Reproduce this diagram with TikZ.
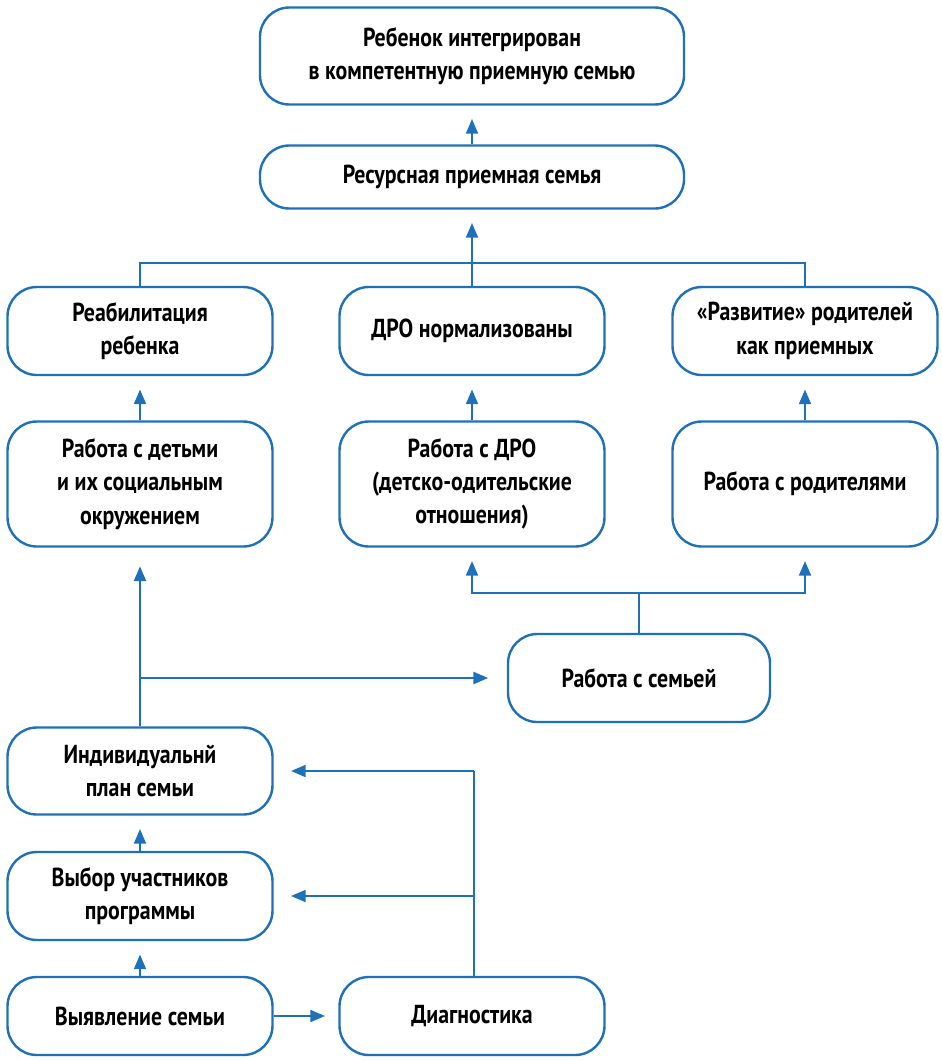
\documentclass[tikz,border=0pt]{standalone}
\usepackage{fontspec}
\setmainfont{PT Sans}[FakeStretch=0.84]
\usetikzlibrary{arrows.meta}
\definecolor{frameblue}{RGB}{30,112,184}
\begin{document}
\begin{tikzpicture}[x=0.75pt, y=-0.75pt,
    box/.style={draw=frameblue, line width=1.8pt, rounded corners=22pt, inner sep=0pt,
      align=center, font=\fontsize{19.5}{25}\selectfont\bfseries,
      minimum width=198.75pt, minimum height=66pt},
    wide/.style={minimum width=318pt},
    link/.style={draw=frameblue, line width=1.5pt},
    arr/.style={link, -{Triangle[length=11pt, width=9pt]}, shorten >=10pt}]
	  \useasboundingbox (0,0) rectangle (942,1061);

	  \node [box, wide, minimum height=72.75pt] (goal) at (472,56) {Ребенок интегрирован\\в компетентную приемную семью};
	  \node [box, wide, minimum height=47.25pt] (resfam) at (472,177) {Ресурсная приемная семья};

	  \node [box] (rehab) at (140,331) {Реабилитация\\ребенка};
	  \node [box] (drook) at (472,331) {ДРО нормализованы};
	  \node [box] (growth) at (805,331) {«Развитие» родителей\\как приемных};

	  \node [box, minimum height=93.75pt] (wchild) at (140,484) {Работа с детьми\\и их социальным\\окружением};
	  \node [box, minimum height=93.75pt] (wdro) at (472,484) {Работа с ДРО\\(детско-одительские\\отношения)};
	  \node [box, minimum height=93.75pt] (wparent) at (805,484) {Работа с родителями};

	  \node [box, minimum width=196.5pt] (wfam) at (639,678) {Работа с семьей};

	  \node [box, minimum height=65.25pt] (plan) at (140,771) {Индивидуальнй\\план семьи};
	  \node [box] (select) at (140,896) {Выбор участников\\программы};
	  \node [box, minimum height=58.5pt] (detect) at (140,1016) {Выявление семьи};
	  \node [box, minimum height=58.5pt] (diag) at (472,1016) {Диагностика};

	  % top part
	  \draw [arr] (resfam.north) -- (goal.south);
	  \draw [arr] (drook.north) -- (resfam.south);
	  \coordinate (joinup) at (472,263);
	  \draw [link] (rehab.north) |- (joinup) -| (growth.north);

	  \draw [arr] (wchild.north) -- (rehab.south);
	  \draw [arr] (wdro.north) -- (drook.south);
	  \draw [arr] (wparent.north) -- (growth.south);

	  % family work
	  \coordinate (famjoin) at (639,593);
	  \draw [link] (wfam.north) -- (famjoin);
	  \draw [arr] (famjoin) -| (wdro.south);
	  \draw [arr] (famjoin) -| (wparent.south);

	  \coordinate (planbranch) at (140,678);
	  \draw [arr, shorten >=14pt] (plan.north) -- (wchild.south);
	  \draw [arr, shorten >=14pt] (planbranch) -- (wfam.west);

	  % bottom part
	  \draw [arr] (select.north) -- (plan.south);
	  \draw [arr] (detect.north) -- (select.south);
	  \draw [arr] (detect.east) -- (diag.west);
	  \coordinate (diagup) at (474,771);
	  \coordinate (diagmid) at (474,896);
	  \draw [link] (diag.north -| diagup) -- (diagup);
	  \draw [arr, shorten >=13pt] (diagup) -- (plan.east);
	  \draw [arr, shorten >=13pt] (diagmid) -- (select.east);
	\end{tikzpicture}
\end{document}
